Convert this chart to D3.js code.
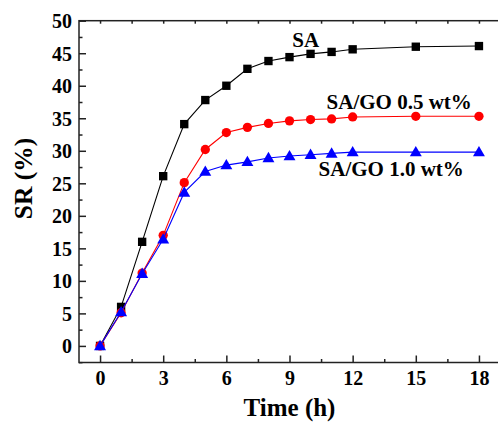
<!DOCTYPE html>
<html>
<head>
<meta charset="utf-8">
<script src="https://cdn.jsdelivr.net/npm/d3@7"></script>
<style>
  html, body { margin: 0; padding: 0; background: #fff; }
  svg { display: block; }
  text { font-family: "Liberation Serif", "Times New Roman", serif; font-weight: bold; fill: #000; }
</style>
</head>
<body>
<svg id="chart" width="498" height="425"></svg>
<script>
const time = [0, 1, 2, 3, 4, 5, 6, 7, 8, 9, 10, 11, 12, 15, 18];
const saValues   = [0, 6.0, 16.0, 26.1, 34.1, 37.8, 40.0, 42.6, 43.8, 44.4, 44.9, 45.2, 45.6, 46.0, 46.1];
const go05Values = [0, 5.1, 11.2, 17.0, 25.1, 30.2, 32.8, 33.6, 34.2, 34.6, 34.8, 34.9, 35.2, 35.3, 35.3];
const go10Values = [0, 5.2, 11.1, 16.4, 23.6, 26.8, 27.8, 28.3, 28.9, 29.2, 29.4, 29.6, 29.8, 29.8, 29.8];
const seriesNames = ["SA", "SA/GO 0.5 wt%", "SA/GO 1.0 wt%"];
const seriesColors = ["#000000", "#ff0000", "#0000ff"];
const seriesShapes = ["square", "circle", "triangle"];
const xTicks = [0, 3, 6, 9, 12, 15, 18];
const yTicks = [0, 5, 10, 15, 20, 25, 30, 35, 40, 45, 50];
const xTitle = "Time (h)";
const yTitle = "SR (%)";
// label anchor positions in data units
const labelX = [9.13, 10.76, 10.38];
const labelY = [46.0, 36.45, 26.2];

(function () {
const svg = d3.select("#chart");
const pLeft = 79, pRight = 500, pTop = 20.7, pBottom = 362.5;
const x = d3.scaleLinear().domain([-1, 19]).range([pLeft, pRight]);
const y = d3.scaleLinear().domain([-2.55, 50]).range([pBottom, pTop]);

const axisColor = "#222";
// frame
svg.append("rect").attr("x", pLeft).attr("y", pTop)
  .attr("width", pRight - pLeft).attr("height", pBottom - pTop)
  .attr("fill", "none").attr("stroke", axisColor).attr("stroke-width", 1.5);

// bottom axis (ticks inward)
const xMinor = d3.range(-1.5, 19, 1.5).filter(v => v > -1 && v < 19 && !xTicks.includes(v));
const gx = svg.append("g").attr("transform", `translate(0,${pBottom})`)
  .call(d3.axisBottom(x).tickValues(xTicks).tickSize(-7).tickPadding(17).tickFormat(d3.format("d")));
gx.select(".domain").remove();
gx.selectAll(".tick line").attr("stroke", axisColor).attr("stroke-width", 1.5);
gx.selectAll("text").attr("font-size", 20).attr("dy", "0").attr("y", 22.5);
const gxm = svg.append("g").attr("transform", `translate(0,${pBottom})`)
  .call(d3.axisBottom(x).tickValues(xMinor).tickSize(-3.5).tickFormat(""));
gxm.select(".domain").remove();
gxm.selectAll(".tick line").attr("stroke", axisColor).attr("stroke-width", 1.5);

// top ticks
const gt = svg.append("g").attr("transform", `translate(0,${pTop})`)
  .call(d3.axisTop(x).tickValues(xTicks.concat(xMinor)).tickSize(-3).tickFormat(""));
gt.select(".domain").remove();
gt.selectAll(".tick line").attr("stroke", axisColor).attr("stroke-width", 1.5);

// left axis
const yMinor = d3.range(-2.5, 50, 2.5).filter(v => !yTicks.includes(v) && v > -2.55);
const gy = svg.append("g").attr("transform", `translate(${pLeft},0)`)
  .call(d3.axisLeft(y).tickValues(yTicks).tickSize(-7).tickPadding(7).tickFormat(d3.format("d")));
gy.select(".domain").remove();
gy.selectAll(".tick line").attr("stroke", axisColor).attr("stroke-width", 1.5);
gy.selectAll("text").attr("font-size", 20).attr("x", -7).attr("dy", "0.34em");
const gym = svg.append("g").attr("transform", `translate(${pLeft},0)`)
  .call(d3.axisLeft(y).tickValues(yMinor).tickSize(-3.5).tickFormat(""));
gym.select(".domain").remove();
gym.selectAll(".tick line").attr("stroke", axisColor).attr("stroke-width", 1.5);

// series
const allValues = [saValues, go05Values, go10Values];
const line = d3.line().x((d, i) => x(time[i])).y(d => y(d));
const symbolTypes = { square: d3.symbolSquare, circle: d3.symbolCircle, triangle: d3.symbolTriangle };
const symbolSizes = { square: 70, circle: 68, triangle: 62 };
allValues.forEach((vals, s) => {
  svg.append("path").datum(vals).attr("d", line)
    .attr("fill", "none").attr("stroke", seriesColors[s]).attr("stroke-width", 1.1);
  const sym = d3.symbol().type(symbolTypes[seriesShapes[s]]).size(symbolSizes[seriesShapes[s]]);
  svg.append("g").selectAll("path").data(vals).join("path")
    .attr("d", sym)
    .attr("transform", (d, i) => `translate(${x(time[i])},${y(d) + (seriesShapes[s] === "triangle" ? 0.8 : 0)})`)
    .attr("fill", seriesColors[s]);
});

// series labels
seriesNames.forEach((name, s) => {
  svg.append("text").attr("x", x(labelX[s])).attr("y", y(labelY[s]))
    .attr("font-size", 21).text(name);
});

// axis titles
svg.append("text").attr("x", (pLeft + pRight) / 2).attr("y", 416)
  .attr("text-anchor", "middle").attr("font-size", 25).text(xTitle);
svg.append("text").attr("transform", "translate(32,178.5) rotate(-90)")
  .attr("text-anchor", "middle").attr("font-size", 25.5).text(yTitle);
})();
</script>
</body>
</html>
